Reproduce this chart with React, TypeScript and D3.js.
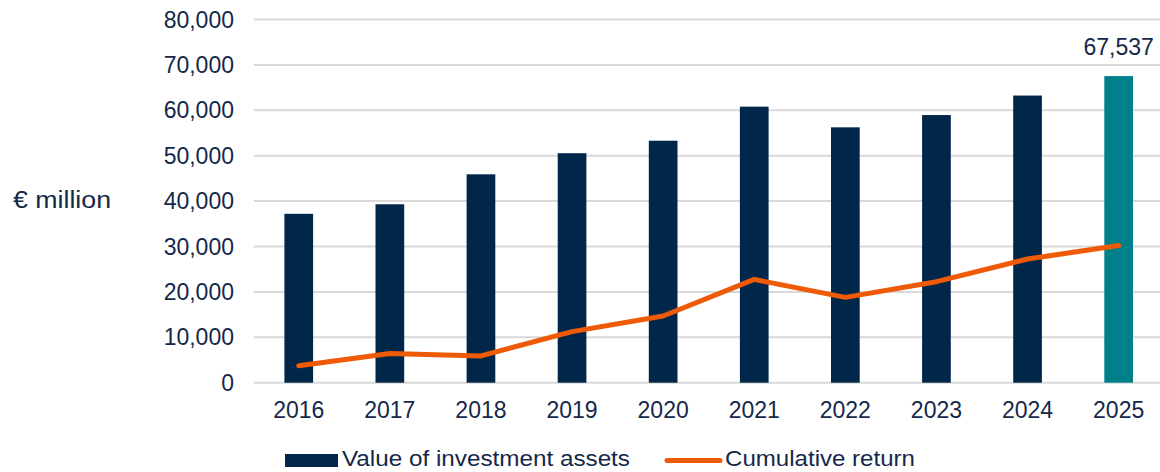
import React from "react";
import * as d3 from "d3";

const years = ["2016", "2017", "2018", "2019", "2020", "2021", "2022", "2023", "2024", "2025"];
const assetValues = [37200, 39300, 45900, 50550, 53300, 60800, 56250, 58950, 63250, 67537];
const cumulativeReturn = [3750, 6450, 5900, 11250, 14700, 22750, 18800, 22250, 27250, 30200];
const yTicks = [0, 10000, 20000, 30000, 40000, 50000, 60000, 70000, 80000];
const highlightLabel = "67,537";

const W = 1160;
const H = 472;
const NAVY = "#00264a";
const TEAL = "#008089";
const ORANGE = "#ee5a06";
const TEXT = "#15284a";
const GRID = "#d9d9d9";

export default function App() {
  const x = d3.scaleBand<string>().domain(years).range([253.2, 1164.2]).paddingInner(0.685).paddingOuter(0.3425);
  const y = d3.scaleLinear().domain([0, 80000]).range([382.7, 19.5]);
  const fmt = d3.format(",");
  const line = d3
    .line<number>()
    .x((_, i) => (x(years[i]) as number) + x.bandwidth() / 2)
    .y((d) => y(d));
  const font = "'Liberation Sans', Arial, sans-serif";

  return (
    <svg width={W} height={H} style={{ position: "absolute", left: 0, top: 0, background: "#fff" }} fontFamily={font}>
      {yTicks.map((t) => (
        <g key={t}>
          <line x1={254} x2={W} y1={y(t)} y2={y(t)} stroke={GRID} strokeWidth={2} />
          <text x={234} y={y(t)} dy="0.35em" textAnchor="end" fontSize={23} fill={TEXT}>
            {fmt(t)}
          </text>
        </g>
      ))}
      <text x={13} y={200} dy="0.35em" fontSize={23} fill={TEXT} textLength={98} lengthAdjust="spacingAndGlyphs">
        € million
      </text>
      {assetValues.map((v, i) => (
        <rect
          key={years[i]}
          x={x(years[i])}
          y={y(v)}
          width={x.bandwidth()}
          height={y(0) - y(v)}
          fill={i === years.length - 1 ? TEAL : NAVY}
        />
      ))}
      <path d={line(cumulativeReturn) || ""} fill="none" stroke={ORANGE} strokeWidth={5} strokeLinecap="round" strokeLinejoin="round" />
      <text
        x={(x(years[years.length - 1]) as number) + x.bandwidth() / 2}
        y={55}
        textAnchor="middle"
        fontSize={23}
        fill={TEXT}
      >
        {highlightLabel}
      </text>
      {years.map((yr) => (
        <text key={yr} x={(x(yr) as number) + x.bandwidth() / 2} y={418} textAnchor="middle" fontSize={23} fill={TEXT}>
          {yr}
        </text>
      ))}
      <rect x={285} y={454} width={53} height={13} fill={NAVY} />
      <text x={342} y={458.5} dy="0.35em" fontSize={22} fill={TEXT} textLength={288} lengthAdjust="spacingAndGlyphs">
        Value of investment assets
      </text>
      <line x1={667} x2={720} y1={460.5} y2={460.5} stroke={ORANGE} strokeWidth={5} strokeLinecap="round" />
      <text x={725} y={458.5} dy="0.35em" fontSize={22} fill={TEXT} textLength={190} lengthAdjust="spacingAndGlyphs">
        Cumulative return
      </text>
    </svg>
  );
}
